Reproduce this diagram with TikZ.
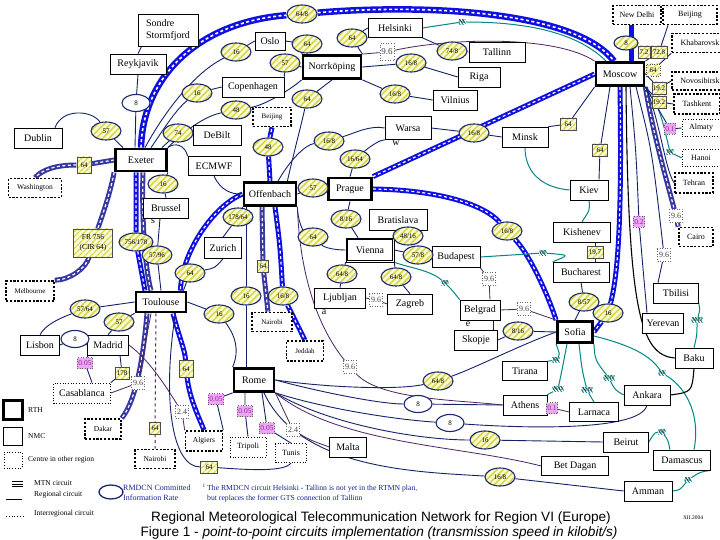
\documentclass[tikz,border=0pt]{standalone}
\usepackage{fontspec}
\setmainfont{Liberation Serif}
\newfontfamily\titlefont{Liberation Sans}
\usetikzlibrary{shapes.geometric,patterns.meta}
\newcommand{\myfs}[1]{\fontsize{#1}{#1}\selectfont}
\definecolor{mtnblue}{RGB}{15,15,225}
\definecolor{mtnpurp}{RGB}{55,55,160}
\definecolor{cNavy}{RGB}{20,35,105}
\definecolor{cInter}{RGB}{75,35,100}
\definecolor{cTeal}{RGB}{0,135,135}
\definecolor{cLab}{RGB}{25,40,110}
\definecolor{cStripe}{RGB}{215,215,70}
\definecolor{cLabFill}{RGB}{250,250,215}
\definecolor{cPink}{RGB}{238,165,245}
\definecolor{cPinkTxt}{RGB}{140,40,150}
\definecolor{cFoot}{RGB}{25,35,140}
\pgfdeclarelayer{bg}
\pgfsetlayers{bg,main}
\tikzset{
 nbox/.style 2 args={draw=black, fill=white, line width=0.6pt, minimum width=#1pt, minimum height=#2pt, inner sep=0.5pt, font=\myfs{10}},
 rth/.style 2 args={nbox={#1}{#2}, line width=2.8pt},
 othr/.style 2 args={nbox={#1}{#2}, line width=1.6pt, dash pattern=on 2.2pt off 1.6pt, font=\myfs{8}},
 oth/.style 2 args={nbox={#1}{#2}, line width=0.7pt, dotted, font=\myfs{8}},
 dblbox/.style={path picture={\draw[black, line width=0.5pt] ([shift={(1.6pt,1.6pt)}]path picture bounding box.south west) rectangle ([shift={(-1.6pt,-1.6pt)}]path picture bounding box.north east);}},
 lab/.style={ellipse, draw=cLab, line width=1.1pt, preaction={fill=cLabFill}, pattern={Lines[angle=45,distance=4.5pt,line width=1.6pt]}, pattern color=cStripe, font=\myfs{7}, inner sep=0pt, minimum width=30pt, minimum height=18pt},
 labw/.style={ellipse, draw=cLab, line width=1.1pt, fill=white, font=\myfs{7}, inner sep=0pt, minimum width=28pt, minimum height=17pt},
 ybox/.style={rectangle, draw=black!70, line width=0.4pt, preaction={fill=cLabFill}, pattern={Lines[angle=45,distance=4pt,line width=1.4pt]}, pattern color=cStripe, font=\myfs{7}, inner sep=1pt, minimum width=14pt, minimum height=12pt},
 pbox/.style={rectangle, draw=black!60, dotted, line width=0.5pt, fill=cPink, text=cPinkTxt, font=\myfs{7.5}, inner sep=1pt, minimum height=11pt},
 dbox/.style={rectangle, draw=black!60, dotted, line width=0.6pt, fill=white, text=black!75, font=\myfs{8}, inner sep=1.5pt, minimum height=13pt},
 nim/.style={rectangle, inner sep=0.8pt, pattern={Lines[angle=-55,distance=2.5pt,line width=0.9pt]}, pattern color=cTeal, font=\myfs{5.5}, text=black},
 mtn/.style={draw=mtnblue, line width=5pt, postaction={draw=white, line width=1.2pt, dash pattern=on 3pt off 2.5pt}},
 mtnw/.style={draw=mtnblue, line width=6.5pt, postaction={draw=white, line width=1.6pt, dash pattern=on 3pt off 2.5pt}},
 mtnp/.style={draw=mtnpurp, line width=5pt, postaction={draw=white, line width=1.2pt, dash pattern=on 3pt off 2.5pt}},
 mtns/.style={draw=mtnblue, line width=5pt},
 reg/.style={draw=cNavy, line width=0.9pt},
 inter/.style={draw=cInter, line width=0.8pt},
 interd/.style={draw=cInter, line width=1pt, dashed},
 tl/.style={draw=cTeal, line width=1pt},
 blk/.style={draw=black, line width=1.1pt},
 txt/.style={inner sep=0pt, font=\myfs{8}}
}
\begin{document}
\begin{tikzpicture}[x=1pt,y=-1pt]
\begin{pgfonlayer}{bg}
\fill[white] (0,0) rectangle (720,540);
\end{pgfonlayer}
\useasboundingbox (0,0) rectangle (720,540);
% ---------- stations ----------
\node[nbox={60}{32}, align=left, font=\fontsize{10}{11.5}\selectfont] (Sondre) at (168,30) {Sondre\\Stormfjord};
\node[nbox={56}{20}] (Reykjavik) at (138,64) {Reykjavik};
\node[nbox={48}{20}] (Dublin) at (38,138) {Dublin};
\node[nbox={48}{20}] (DeBilt) at (217,135) {DeBilt};
\node[nbox={30}{18}] (Oslo) at (270,41) {Oslo};
\node[nbox={62}{20}] (Copenhagen) at (253,87) {Copenhagen};
\node[othr={38}{19}, font=\myfs{7}] (BeijingA) at (272,117) {Beijing};
\node[rth={58}{23}] (Norrkoping) at (332,67) {Norrköping};
\node[nbox={54}{19}] (Helsinki) at (395,28) {Helsinki};
\node[nbox={42}{20}] (Riga) at (479,77) {Riga};
\node[nbox={44}{20}] (Vilnius) at (455,100) {Vilnius};
\node[nbox={56}{20}] (Tallinn) at (497,52) {Tallinn};
\node[nbox={46}{23}] (Warsaw) at (408,128) {Warsa};
\node[txt, font=\myfs{10}] (WarsawW) at (396,143) {w};
\node[rth={48}{23}] (Moscow) at (620,74) {Moscow};
\node[othr={48}{19}] (NewDelhi) at (637,15) {New Delhi};
\node[othr={54}{19}] (BeijingB) at (690,15) {Beijing};
\node[othr={56}{19}] (Khabarovsk) at (700,43) {Khabarovsk};
\node[othr={56}{18}] (Novosibirsk) at (700,81) {Novosibirsk};
\node[othr={46}{20}] (Tashkent) at (697,104) {Tashkent};
\node[oth={38}{17}] (Almaty) at (701,128) {Almaty};
\node[nbox={46}{20}] (Minsk) at (525,137) {Minsk};
\node[oth={38}{17}] (Hanoi) at (701,158) {Hanoi};
\node[othr={38}{20}] (Tehran) at (694,183) {Tehran};
\node[othr={34}{19}] (Cairo) at (696,237) {Cairo};
\node[nbox={38}{20}] (Kiev) at (589,190) {Kiev};
\node[nbox={57}{20}] (Kishenev) at (582,232) {Kishenev};
\node[nbox={56}{20}] (Bucharest) at (581,272) {Bucharest};
\node[nbox={45}{20}] (Tbilisi) at (676,293) {Tbilisi};
\node[nbox={41}{20}] (Yerevan) at (663,323) {Yerevan};
\node[rth={35}{21}] (Sofia) at (575,332) {Sofia};
\node[nbox={40}{20}] (Belgrade) at (480,310) {Belgrad};
\node[txt, font=\myfs{10}] (BelgradeE) at (468,324) {e};
\node[nbox={43}{20}] (Skopje) at (476,340) {Skopje};
\node[nbox={45}{19}] (Tirana) at (525,371) {Tirana};
\node[nbox={38}{20}] (Baku) at (694,358) {Baku};
\node[nbox={46}{20}] (Ankara) at (647,395) {Ankara};
\node[nbox={44}{20}] (Athens) at (525,405) {Athens};
\node[nbox={49}{19}] (Larnaca) at (594,412) {Larnaca};
\node[nbox={45}{20}] (Beirut) at (626,442) {Beirut};
\node[nbox={57}{20}] (Damascus) at (682,460) {Damascus};
\node[nbox={67}{19}] (BetDagan) at (575,466) {Bet Dagan};
\node[nbox={48}{20}] (Amman) at (648,491) {Amman};
\node[rth={51}{22}] (Exeter) at (141,160) {Exeter};
\node[othr={53}{19}, font=\myfs{7.5}] (Washington) at (35,188) {Washington};
\node[nbox={52}{19}] (ECMWF) at (214,166) {ECMWF};
\node[nbox={45}{20}] (Brussels) at (166,208) {Brussel};
\node[txt, font=\myfs{10}] (BrusselsS) at (153,221) {s};
\node[nbox={37}{21}] (Zurich) at (223,248) {Zurich};
\node[rth={52}{23}] (Offenbach) at (270,194) {Offenbach};
\node[rth={43}{22}] (Prague) at (350,189) {Prague};
\node[nbox={58}{21}] (Bratislava) at (398,220) {Bratislava};
\node[nbox={48}{24}, dblbox] (Vienna) at (370,250) {Vienna};
\node[nbox={48}{21}] (Budapest) at (456,257) {Budapest};
\node[othr={48}{20}, font=\myfs{7}] (Melbourne) at (30,291) {Melbourne};
\node[rth={50}{20}] (Toulouse) at (161,302) {Toulouse};
\node[nbox={39}{20}] (Lisbon) at (40,345) {Lisbon};
\node[nbox={41}{20}] (Madrid) at (108,345) {Madrid};
\node[oth={57}{20}, font=\myfs{10}] (Casablanca) at (82,393) {Casablanca};
\node[othr={40}{19}, font=\myfs{7}] (NairobiA) at (272,322) {Nairobi};
\node[othr={37}{20}, font=\myfs{7}] (Jeddah) at (305,351) {Jeddah};
\node[nbox={51}{20}] (Ljubljana) at (340,298) {Ljubljan};
\node[txt, font=\myfs{10}] (LjubljanaA) at (324,312) {a};
\node[nbox={45}{20}] (Zagreb) at (410,304) {Zagreb};
\node[rth={40}{23}] (Rome) at (254,380) {Rome};
\node[othr={36}{20}, font=\myfs{7.5}] (Dakar) at (103,429) {Dakar};
\node[othr={40}{19}, font=\myfs{7.5}] (NairobiB) at (155,459) {Nairobi};
\node[othr={37}{20}, font=\myfs{7.5}] (Algiers) at (204,441) {Algiers};
\node[oth={36}{20}] (Tripoli) at (248,447) {Tripoli};
\node[oth={31}{19}] (Tunis) at (291,453) {Tunis};
\node[nbox={37}{20}] (Malta) at (348,447) {Malta};
% ---------- ellipse labels ----------
\node[lab] (l1) at (302,14) {64/8};
\node[lab] (l2) at (236,52) {16};
\node[lab] (l3) at (307,44) {64};
\node[lab] (l4) at (285,63) {57};
\node[lab] (l5) at (352,38) {64};
\node[lab] (l6) at (197,93) {16};
\node[lab] (l7) at (236,110) {48};
\node[lab] (l8) at (307,99) {64};
\node[labw] (l9) at (136,103) {8};
\node[lab] (l10) at (106,131) {57};
\node[lab] (l11) at (178,133) {74};
\node[lab] (l12) at (452,51) {74/8};
\node[lab] (l13) at (411,63) {16/8};
\node[lab] (l14) at (395,94) {16/8};
\node[lab] (l15) at (474,133) {16/8};
\node[lab, minimum width=24pt, minimum height=14pt] (l16) at (626,43) {8};
\node[lab] (l17) at (163,184) {16};
\node[lab] (l18) at (268,147) {48};
\node[lab] (l19) at (329,141) {16/8};
\node[lab] (l20) at (355,159) {16/64};
\node[lab] (l21) at (313,188) {57};
\node[lab] (l22) at (238,217) {178/64};
\node[lab, minimum width=34pt] (l23) at (136,242) {756/178};
\node[lab] (l24) at (157,255) {57/96};
\node[lab] (l25) at (346,219) {8/16};
\node[lab] (l26) at (408,236) {48/16};
\node[lab] (l27) at (313,237) {64};
\node[lab] (l28) at (418,255) {57/8};
\node[lab] (l29) at (507,231) {16/8};
\node[lab] (l30) at (190,273) {64};
\node[lab] (l31) at (342,274) {64/8};
\node[lab] (l32) at (396,277) {64/8};
\node[lab] (l33) at (246,296) {16};
\node[lab] (l34) at (283,296) {16/8};
\node[lab] (l35) at (85,309) {57/64};
\node[lab] (l36) at (119,322) {57};
\node[labw] (l37) at (75,339) {8};
\node[lab] (l38) at (219,314) {16};
\node[lab] (l39) at (584,302) {8/57};
\node[lab] (l40) at (608,313) {16};
\node[lab] (l41) at (518,331) {8/16};
\node[lab] (l42) at (438,381) {64/8};
\node[labw] (l43) at (418,404) {8};
\node[labw] (l44) at (450,423) {8};
\node[lab] (l45) at (485,440) {16};
\node[lab] (l46) at (500,477) {16/8};
% ---------- yellow boxes ----------
\node[ybox, minimum height=16pt] (r1) at (84,165) {64};
\node[ybox, align=center, minimum width=39pt, minimum height=28pt, font=\fontsize{7.5}{9.5}\selectfont] (r2) at (93,243) {FR 756\\(CIR 64)};
\node[ybox, minimum width=11pt] (r3) at (263,266) {64};
\node[ybox, minimum height=17pt] (r4) at (186,369) {64};
\node[ybox] (r5) at (122,373) {178};
\node[ybox, minimum width=11pt] (r6) at (155,428) {64};
\node[ybox, minimum width=17pt] (r7) at (209,467) {64};
\node[ybox, minimum width=16pt] (r8) at (568,124) {64};
\node[ybox, minimum width=15pt] (r9) at (600,150) {64};
\node[ybox, minimum width=16pt] (r10) at (595,252) {19.7};
\node[ybox, minimum width=12pt] (r11) at (644,52) {7.2};
\node[ybox, minimum width=16pt] (r12) at (659,52) {72.8};
\node[ybox, dotted] (r13) at (653,70) {64};
\node[ybox] (r14) at (659,88) {19.2};
\node[ybox] (r15) at (659,102) {19.2};
% ---------- pink boxes ----------
\node[pbox] (p1) at (670,129) {0.1};
\node[pbox] (p2) at (639,222) {0.2};
\node[pbox] (p3) at (85,363) {0.05};
\node[pbox] (p4) at (216,399) {0.05};
\node[pbox] (p5) at (245,411) {0.05};
\node[pbox] (p6) at (267,428) {0.05};
\node[pbox] (p7) at (552,408) {0.1};
% ---------- dotted boxes ----------
\node[dbox, font=\myfs{9}, minimum height=17pt] (d1) at (387,52) {9.6};
\node[dbox] (d2) at (676,216) {9.6};
\node[dbox] (d3) at (664,255) {9.6};
\node[dbox] (d4) at (489,279) {9.6};
\node[dbox] (d5) at (524,309) {9.6};
\node[dbox] (d6) at (376,300) {9.6};
\node[dbox] (d7) at (350,367) {9.6};
\node[dbox] (d8) at (138,383) {9.6};
\node[dbox] (d9) at (182,412) {2.4};
\node[dbox] (d10) at (293,430) {2.4};
% ---------- NI / N/O marks ----------
\node[nim] (n1) at (462,22) {NI};
\node[nim] (n2) at (670,152) {NI};
\node[nim] (n3) at (543,253) {NI};
\node[nim] (n4) at (445,283) {NI};
\node[nim] (n5) at (697,320) {N/O};
\node[nim] (n6) at (556,360) {NI};
\node[nim] (n7) at (558,389) {N/O};
\node[nim] (n8) at (587,390) {N/O};
\node[nim] (n9) at (609,378) {N/O};
\node[nim] (n10) at (662,373) {NI};
\node[nim] (n11) at (662,432) {NI};
\node[nim] (n12) at (688,480) {NI};
% ---------- legend ----------
\node[rth={19}{19}] (legRTH) at (13,410) {};
\node[txt, anchor=west, font=\myfs{7.5}] (tRTH) at (28,410) {RTH};
\node[nbox={19}{18}] (legNMC) at (13,436) {};
\node[txt, anchor=west, font=\myfs{7.5}] (tNMC) at (28,436) {NMC};
\node[oth={18}{16}] (legOth) at (13,460) {};
\node[txt, anchor=west, font=\myfs{7.5}] (tOth) at (28,460) {Centre in other region};
\draw[black, line width=0.7pt] (12,481.5) -- (23,481.5) (12,484) -- (23,484) (12,486.5) -- (23,486.5);
\node[txt, anchor=west, font=\myfs{7.5}] (tMTN) at (34,483) {MTN circuit};
\draw[black, line width=0.8pt] (6,499) -- (22,499);
\node[txt, anchor=west, font=\myfs{7.5}] (tReg) at (34,495) {Regional circuit};
\draw[black, line width=0.8pt, dotted] (6,516) -- (23,516);
\node[txt, anchor=west, font=\myfs{7.5}] (tInt) at (34,514) {Interregional circuit};
\node[ellipse, draw=cLab, line width=1.3pt, minimum width=24pt, minimum height=14pt] (legR) at (111,492) {};
\node[txt, anchor=west, align=left, text=cFoot, font=\fontsize{8}{10}\selectfont] (tRMD) at (123,493) {RMDCN Committed\\Information Rate};
\node[txt, anchor=west, align=left, text=cFoot, font=\fontsize{7.7}{10}\selectfont] (tFoot) at (207,493) {\llap{\textsuperscript{1}\,}The RMDCN circuit Helsinki - Tallinn is not yet in the RTMN plan,\\but replaces the former GTS connection of Tallinn};
\node[txt, font=\titlefont\myfs{13.6}] (title1) at (381,518) {Regional Meteorological Telecommunication Network for Region VI (Europe)};
\node[txt, font=\titlefont\myfs{13.6}] (title2) at (379,533) {Figure 1 - \textit{point-to-point circuits implementation (transmission speed in kilobit/s)}};
\node[txt, font=\myfs{5.5}] (date) at (693,518) {XII.2004};
% ---------- connectors ----------
\begin{pgfonlayer}{bg}
% MTN
\draw[mtnw] (Exeter.north) .. controls (143,75) and (200,22) .. (l1) .. controls (420,4) and (575,10) .. ([xshift=-6pt]Moscow.north);
\draw[mtn] (Prague.north east) -- (Moscow.west);
\draw[mtn] (Prague.east) .. controls (440,190) and (485,205) .. (l29) .. controls (530,255) and (548,295) .. (Sofia.north west);
\draw[mtn] (Moscow.south) .. controls (622,220) and (618,275) .. (l40) -- (Sofia.east);
\draw[mtns] ([xshift=-6pt]NewDelhi.south) -- ([xshift=11pt]Moscow.north);
\draw[mtnp] (Exeter.west) -- (r1) .. controls (55,165) and (42,170) .. (Washington.north);
\draw[mtnp] (Exeter.south west) .. controls (110,195) and (100,222) .. (r2) .. controls (86,268) and (70,280) .. (Melbourne.north east);
\draw[mtn] ([xshift=-5pt]Exeter.south) -- (l23) -- ([xshift=-16pt]Toulouse.north);
\draw[mtnp] ([xshift=2pt]Exeter.south) .. controls (142,200) and (143,260) .. ([xshift=-10pt]Toulouse.north);
\draw[mtnp] ([xshift=-14pt]Toulouse.south) .. controls (143,360) and (136,400) .. (Dakar.north east);
\draw[mtn] ([xshift=12pt]Toulouse.south) .. controls (180,340) and (185,350) .. (r4) .. controls (190,400) and (198,415) .. (Algiers.north);
\draw[interd] ([xshift=-5pt]Toulouse.south) -- (r6) -- (NairobiB.north);
\draw[mtn] (Offenbach.north) -- (l18) -- (BeijingA.south);
\draw[mtnp] ([xshift=-8pt]Offenbach.south) -- (r3) -- ([xshift=-4pt]NairobiA.north);
\draw[mtn] ([xshift=5pt]Offenbach.south) .. controls (280,245) .. (l34) -- (Jeddah.north);
\draw[mtn] (Offenbach.west) .. controls (215,205) and (182,250) .. ([xshift=-7pt]Toulouse.north east);
\draw[mtnp] (Moscow.south east) .. controls (652,130) and (668,185) .. (d2) -- (Cairo.north west);
% regional, west
\draw[reg] (Reykjavik.north) -- ([xshift=4pt]Sondre.south west);
\draw[reg] (Reykjavik.south) -- (l9) -- ([xshift=-6pt]Exeter.north);
\draw[reg] ([xshift=17pt]Dublin.north) .. controls (62,108) and (92,110) .. (l10) -- ([xshift=-18pt]Exeter.north);
\draw[reg] (DeBilt.west) -- (l11) -- ([xshift=-6pt]Exeter.north east);
\draw[reg] (Copenhagen.west) -- (l6) .. controls (175,110) and (160,135) .. ([xshift=10pt]Exeter.north);
\draw[reg] (Oslo.west) -- (l2) .. controls (190,75) and (160,120) .. ([xshift=4pt]Exeter.north);
\draw[reg] (Exeter.north east) .. controls (190,125) and (210,115) .. (l7) .. controls (265,105) and (290,90) .. (Norrkoping.south west);
\draw[reg] (Oslo.east) -- (l3) -- (Norrkoping.north west);
\draw[reg] (Copenhagen.north east) -- (l4) -- (Norrkoping.west);
\draw[reg] (Norrkoping.north east) -- (l5) -- (Helsinki.west);
\draw[reg] (Norrkoping.south) -- (l8) .. controls (300,130) and (292,160) .. ([xshift=-10pt]Offenbach.north east);
\draw[reg] (Helsinki.south east) -- (l12) -- (Tallinn.west);
\draw[reg] (Norrkoping.east) -- (l13) -- (Riga.west);
\draw[reg] (Norrkoping.south east) -- (l14) -- (Vilnius.west);
\draw[reg] (Warsaw.east) -- (l15) -- (Minsk.west);
\draw[reg] ([xshift=8pt]Offenbach.north) .. controls (290,160) and (305,145) .. (l19) .. controls (355,133) and (370,125) .. (Warsaw.west);
\draw[reg] (Prague.north) -- (l20) .. controls (372,145) and (380,140) .. (Warsaw.south west);
\draw[reg] (Offenbach.east) -- (l21) -- (Prague.west);
\draw[reg] (Prague.south) -- (l25) -- ([xshift=-12pt]Vienna.north);
\draw[reg] (Offenbach.south east) .. controls (298,225) and (305,232) .. (l27) .. controls (325,248) and (335,250) .. (Vienna.west);
\draw[reg] (Vienna.north east) -- (l26) -- (Bratislava.south);
\draw[reg] (Vienna.east) -- (l28) -- (Budapest.west);
\draw[reg] (Vienna.south west) -- (l31) -- (Ljubljana.north);
\draw[reg] (Vienna.south east) -- (l32) -- (Zagreb.north);
\draw[inter] (Ljubljana.east) -- (d6) -- (Zagreb.west);
\draw[reg] (Exeter.north east) .. controls (175,142) and (185,145) .. (ECMWF.north west);
\draw[reg] (ECMWF.south) .. controls (220,190) and (232,195) .. (Offenbach.west);
\draw[reg] (Exeter.south east) -- (l17) -- (Brussels.north);
\draw[reg] ([xshift=-6pt]Brussels.south) -- (l24) -- (Toulouse.north);
\draw[reg] (Zurich.north) -- (l22) -- (Offenbach.south west);
\draw[reg] (Zurich.south) .. controls (215,268) .. (l30) -- ([xshift=-4pt]Toulouse.north east);
\draw[reg] (Toulouse.west) -- (l35) .. controls (60,318) and (45,325) .. (Lisbon.north);
\draw[reg] (Toulouse.south west) -- (l36) -- (Madrid.north);
\draw[reg] (Lisbon.east) -- (l37) -- (Madrid.west);
\draw[reg] ([xshift=-20pt]Madrid.south) -- (p3) -- ([xshift=10pt]Casablanca.north);
\draw[reg] ([xshift=12pt]Madrid.south) -- (r5) -- (Casablanca.north east);
\draw[inter] ([xshift=-10pt]Toulouse.south) .. controls (145,345) .. (d8) -- (Casablanca.east);
\draw[inter] (Madrid.east) .. controls (150,360) and (168,390) .. (d9) -- (Algiers.north west);
\draw[reg] (Toulouse.east) -- (l38) .. controls (235,335) and (240,350) .. (Rome.north west);
\draw[reg] ([xshift=-24pt]Offenbach.south) -- (l33) -- ([xshift=-8pt]Rome.north);
\draw[reg] (Rome.south west) -- (p4) -- (Algiers.north east);
\draw[reg] ([xshift=-9pt]Rome.south) -- (p5) -- (Tripoli.north);
\draw[reg] ([xshift=8pt]Rome.south) -- (p6) -- (Tunis.north);
\draw[inter] (Rome.south east) -- (d10) .. controls (310,440) .. (Malta.west);
\draw[reg] ([xshift=-12pt]Toulouse.south east) .. controls (162,400) and (172,467) .. (r7) .. controls (250,470) and (285,472) .. (Tunis.south);
\draw[reg] (Rome.east) .. controls (330,388) and (400,390) .. (l42) .. controls (475,368) and (520,345) .. (Sofia.west);
\draw[reg] (Rome.east) .. controls (320,392) and (380,404) .. (l43) -- (Athens.west);
\draw[reg] (Rome.south east) .. controls (330,410) and (400,420) .. (l44) .. controls (520,428) and (640,432) .. (Ankara.south);
\draw[reg] (Rome.south east) .. controls (330,425) and (420,440) .. (l45) -- (Beirut.west);
\draw[inter] (Rome.south east) .. controls (340,445) and (460,445) .. (BetDagan.west);
\draw[reg] ([xshift=10pt]Rome.south) .. controls (300,470) and (420,472) .. (l46) -- (Amman.west);
\draw[inter] (Offenbach.south east) .. controls (300,280) and (320,330) .. (d7) .. controls (380,400) and (460,400) .. (Athens.west);
% regional, east
\draw[reg] (Minsk.north east) -- (r8) -- (Moscow.south west);
\draw[reg] ([xshift=-10pt]Moscow.south) -- (r9) -- ([xshift=10pt]Kiev.north);
\draw[tl] (Minsk.south) .. controls (525,175) and (545,188) .. (Kiev.west);
\draw[tl] (Kiev.south) .. controls (590,210) .. (Kishenev.north);
\draw[reg] ([xshift=13pt]Kishenev.south) -- (r10) -- ([xshift=14pt]Bucharest.north);
\draw[tl] (Budapest.east) -- (n3) .. controls (570,255) .. (Bucharest.north west);
\draw[tl] (Vienna.south east) .. controls (410,268) and (430,270) .. (n4) .. controls (452,290) .. (Belgrade.north west);
\draw[inter] (Budapest.south east) -- (d4) -- ([xshift=10pt]Belgrade.north);
\draw[inter] (Belgrade.east) -- (d5) -- (Sofia.north west);
\draw[reg] ([xshift=13pt]Belgrade.south) -- ([xshift=17pt]Skopje.north);
\draw[reg] (Skopje.east) -- (l41) -- (Sofia.west);
\draw[reg] (Bucharest.south) -- (l39) -- (Sofia.north);
\draw[tl] (Sofia.south west) .. controls (560,355) .. (n6) -- (Tirana.north east);
\draw[tl] ([xshift=-8pt]Sofia.south) .. controls (562,370) .. (n7) -- (Athens.north east);
\draw[tl] ([xshift=4pt]Sofia.south) .. controls (582,370) .. (n8) -- (Larnaca.north);
\draw[tl] (Sofia.south east) .. controls (595,360) .. (n9) .. controls (615,390) .. (Ankara.west);
\draw[tl] ([yshift=-4pt]Sofia.east) .. controls (630,345) and (650,355) .. (n10) .. controls (690,390) and (700,420) .. ([xshift=12pt]Damascus.north);
\draw[tl] (Beirut.east) .. controls (655,432) .. (n11) .. controls (668,440) .. ([xshift=-12pt]Damascus.north);
\draw[tl] (Amman.east) .. controls (680,490) .. (n12) .. controls (700,472) .. (Damascus.south east);
\draw[tl] (Tbilisi.south east) .. controls (700,310) .. (n5) .. controls (697,335) .. (Baku.north);
\draw[blk] ([xshift=6pt]Moscow.south) .. controls (628,310) and (640,355) .. (Baku.west);
\draw[blk] (Ankara.east) .. controls (692,392) .. (Baku.south);
\draw[reg] ([xshift=10pt]Moscow.south) .. controls (636,150) .. (p2) .. controls (644,280) .. ([xshift=-16pt]Yerevan.north);
\draw[reg] ([xshift=16pt]Moscow.south) .. controls (652,150) .. (d3) -- ([xshift=-18pt]Tbilisi.north);
\draw[reg] (Moscow.south east) .. controls (660,120) and (665,170) .. (Tehran.west);
\draw[tl] (Moscow.south east) .. controls (660,110) .. (n2) -- (Hanoi.west);
\draw[reg] (Moscow.south east) -- (p1) -- (Almaty.west);
\draw[reg] (Moscow.south east) -- (r15) -- (Tashkent.west);
\draw[reg] (Moscow.east) -- (r14) -- (Novosibirsk.west);
\draw[reg] (Moscow.east) -- (r13) -- (Khabarovsk.south west);
\draw[reg] (Moscow.north east) -- (r12) -- ([xshift=-22pt]BeijingB.south);
\draw[tl] (Helsinki.east) -- (n1) .. controls (545,22) and (585,40) .. ([xshift=-14pt]Moscow.north);
\draw[inter] (Norrkoping.north east) -- (d1) .. controls (450,38) and (555,35) .. (Moscow.north west);
\draw[inter] (Athens.east) -- (p7) -- (Larnaca.west);
\end{pgfonlayer}
\end{tikzpicture}
\end{document}
